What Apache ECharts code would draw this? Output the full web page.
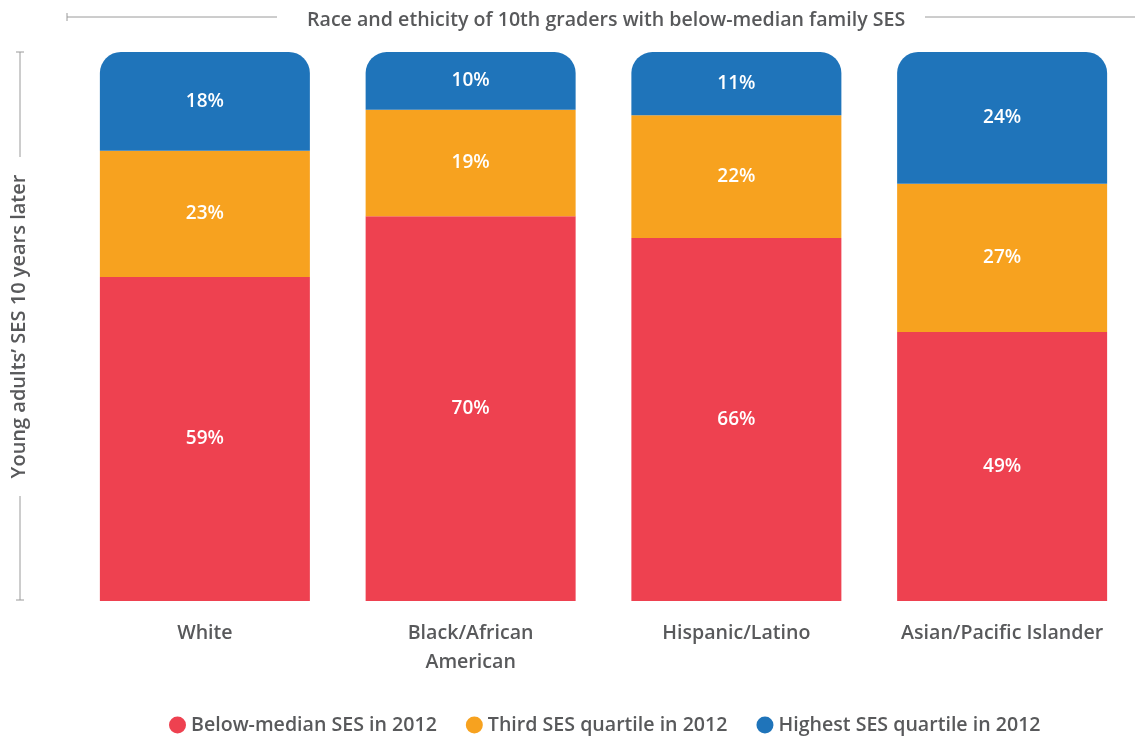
<!DOCTYPE html>
<html>
<head>
<meta charset="utf-8">
<script src="https://cdn.jsdelivr.net/npm/echarts@6/dist/echarts.min.js"></script>
<style>
  html, body { margin: 0; padding: 0; background: #fff; }
  #chart { width: 1135px; height: 742px; }
</style>
</head>
<body>
<div id="chart"></div>
<script>
var categories = ['White', 'Black/African\nAmerican', 'Hispanic/Latino', 'Asian/Pacific Islander'];
var belowMedian = [59, 70.1, 66.1, 49];
var thirdQuartile = [23, 19.4, 22.4, 27];
var highestQuartile = [18, 10.49, 11.49, 24];

var seriesNames = ['Below-median SES in 2012', 'Third SES quartile in 2012', 'Highest SES quartile in 2012'];
var colors = ['#ee4150', '#f7a21f', '#1f74ba'];

var font = "'Open Sans', sans-serif";
var grey = '#58595b';
var lineGrey = '#9a9a9a';

var chart = echarts.init(document.getElementById('chart'));

function pctLabel(p) { return Math.round(p.value) + '%'; }

function bar(name, data, color, top) {
  return {
    name: name,
    type: 'bar',
    stack: 'ses',
    data: data,
    barWidth: 210,
    itemStyle: { color: color, borderRadius: top ? [21, 21, 0, 0] : 0 },
    label: {
      show: true,
      position: 'inside',
      formatter: pctLabel,
      color: '#fff',
      fontFamily: font,
      fontWeight: 600,
      fontSize: 19
    }
  };
}

var option = {
  backgroundColor: '#fff',
  animation: false,
  title: {
    text: 'Race and ethicity of 10th graders with below-median family SES',
    left: 302,
    top: 5,
    textStyle: { color: grey, fontFamily: font, fontWeight: 600, fontSize: 19.6 }
  },
  legend: {
    bottom: 2,
    left: 164,
    icon: 'circle',
    itemWidth: 17,
    itemHeight: 17,
    itemGap: 29,
    textStyle: { color: grey, fontFamily: font, fontWeight: 600, fontSize: 19.6 },
    data: seriesNames
  },
  grid: { top: 52, bottom: 141, left: 72, right: 0 },
  xAxis: {
    type: 'category',
    data: categories,
    axisLine: { show: false },
    axisTick: { show: false },
    axisLabel: {
      color: grey,
      fontFamily: font,
      fontWeight: 600,
      fontSize: 19.6,
      lineHeight: 29,
      margin: 18,
      interval: 0
    }
  },
  yAxis: {
    type: 'value',
    min: 0,
    max: 100,
    name: 'Young adults\u2019 SES 10 years later',
    nameLocation: 'middle',
    nameGap: 43,
    nameTextStyle: { color: grey, fontFamily: font, fontWeight: 600, fontSize: 20 },
    axisLine: { show: false },
    axisTick: { show: false },
    axisLabel: { show: false },
    splitLine: { show: false }
  },
  graphic: [
    { type: 'line', shape: { x1: 67, y1: 17, x2: 277, y2: 17 }, style: { stroke: lineGrey, lineWidth: 1 } },
    { type: 'line', shape: { x1: 67, y1: 13, x2: 67, y2: 21 }, style: { stroke: lineGrey, lineWidth: 1 } },
    { type: 'line', shape: { x1: 925, y1: 17, x2: 1135, y2: 17 }, style: { stroke: lineGrey, lineWidth: 1 } },
    { type: 'line', shape: { x1: 20, y1: 52, x2: 20, y2: 157 }, style: { stroke: lineGrey, lineWidth: 1 } },
    { type: 'line', shape: { x1: 16, y1: 52, x2: 24, y2: 52 }, style: { stroke: lineGrey, lineWidth: 1 } },
    { type: 'line', shape: { x1: 20, y1: 496, x2: 20, y2: 600 }, style: { stroke: lineGrey, lineWidth: 1 } },
    { type: 'line', shape: { x1: 16, y1: 600, x2: 24, y2: 600 }, style: { stroke: lineGrey, lineWidth: 1 } }
  ],
  series: [
    bar(seriesNames[0], belowMedian, colors[0], false),
    bar(seriesNames[1], thirdQuartile, colors[1], false),
    bar(seriesNames[2], highestQuartile, colors[2], true)
  ]
};

chart.setOption(option);
</script>
</body>
</html>
